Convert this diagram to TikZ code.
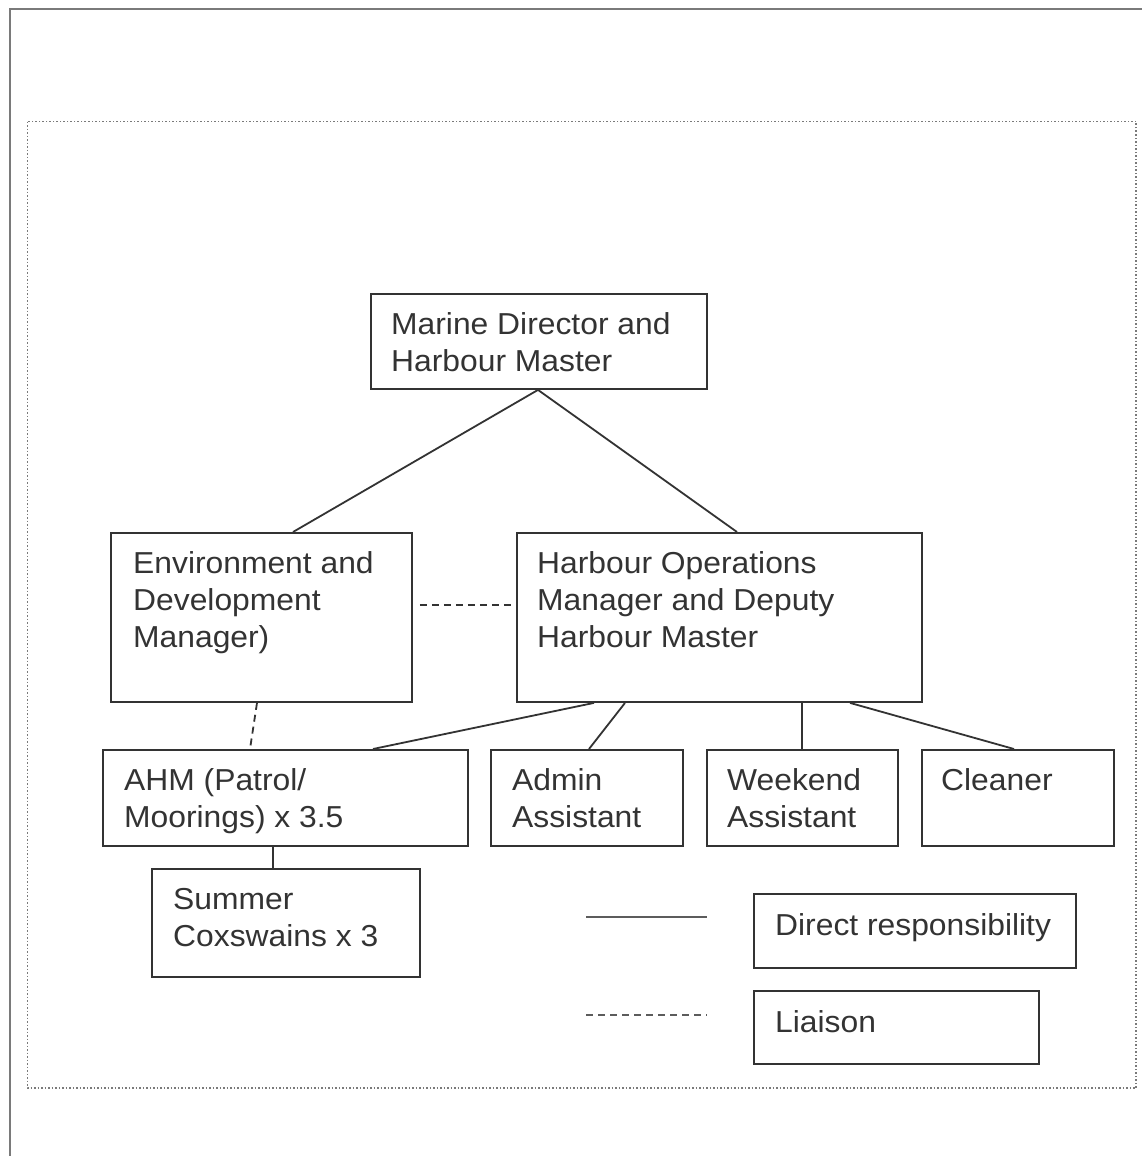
\documentclass[tikz,border=0pt]{standalone}
\usepackage{fontspec}
\setmainfont{Liberation Sans}[FakeStretch=1.05]
\definecolor{ink}{HTML}{333333}
\definecolor{framecol}{HTML}{7a7a7a}
\newcommand\firststrut{\rule{0pt}{25pt}}
\begin{document}
\begin{tikzpicture}[x=1pt,y=1pt,
  box/.style={draw=ink, line width=1.9pt, inner sep=0pt, anchor=north west},
  txt/.style={text=ink, inner sep=0pt, anchor=north west, align=left,
              font=\fontsize{30.3}{37}\selectfont},
  link/.style={draw=ink, line width=1.8pt},
  liaison/.style={link, dash pattern=on 7pt off 5pt},
  legline/.style={draw=ink!80, line width=1.9pt}]
\useasboundingbox (0,0) rectangle (1142,-1156);
\fill[white] (0,0) rectangle (1142,-1156);
% outer frame and dotted panel
\draw[framecol, line width=2.2pt] (10,-1156) -- (10,-9) -- (1142,-9);
\draw[framecol, line width=1.5pt, dotted] (27.5,-121.5) rectangle (1136,-1088);
% boxes
\node[box, minimum width=336pt, minimum height=95pt]  (md)  at (370,-293) {};
\node[box, minimum width=301pt, minimum height=169pt] (env) at (110,-532) {};
\node[box, minimum width=405pt, minimum height=169pt] (ho)  at (516,-532) {};
\node[box, minimum width=365pt, minimum height=96pt]  (ahm) at (102,-749) {};
\node[box, minimum width=192pt, minimum height=96pt]  (adm) at (490,-749) {};
\node[box, minimum width=191pt, minimum height=96pt]  (wkd) at (706,-749) {};
\node[box, minimum width=192pt, minimum height=96pt]  (cln) at (921,-749) {};
\node[box, minimum width=268pt, minimum height=108pt] (sum) at (151,-868) {};
\node[box, minimum width=322pt, minimum height=74pt]  (dir) at (753,-893) {};
\node[box, minimum width=285pt, minimum height=73pt]  (lia) at (753,-990) {};
% texts
\node[txt] (mdt)  at ([shift={(21,-16)}]md.north west)  {\firststrut Marine Director and\\Harbour Master};
\node[txt] (envt) at ([shift={(23,-16)}]env.north west) {\firststrut Environment and\\Development\\Manager)};
\node[txt] (hot)  at ([shift={(21,-16)}]ho.north west)  {\firststrut Harbour Operations\\Manager and Deputy\\Harbour Master};
\node[txt] (ahmt) at ([shift={(22,-16)}]ahm.north west) {\firststrut AHM (Patrol/\\Moorings) x 3.5};
\node[txt] (admt) at ([shift={(22,-16)}]adm.north west) {\firststrut Admin\\Assistant};
\node[txt] (wkdt) at ([shift={(21,-16)}]wkd.north west) {\firststrut Weekend\\Assistant};
\node[txt] (clnt) at ([shift={(20,-16)}]cln.north west) {\firststrut Cleaner};
\node[txt] (sumt) at ([shift={(22,-16)}]sum.north west) {\firststrut Summer\\Coxswains x 3};
\node[txt] (dirt) at ([shift={(22,-17)}]dir.north west) {\firststrut Direct responsibility};
\node[txt] (liat) at ([shift={(22,-17)}]lia.north west) {\firststrut Liaison};
% connectors
\draw[link] ([xshift=168pt]md.south west) -- ([xshift=183pt]env.north west);
\draw[link] ([xshift=168pt]md.south west) -- ([xshift=221pt]ho.north west);
\draw[liaison] ([shift={(7pt,-73pt)}]env.north east) -- ([shift={(-5pt,-73pt)}]ho.north west);
\draw[liaison] ([xshift=147pt]env.south west) -- ([xshift=148pt]ahm.north west);
\draw[link] ([xshift=78pt]ho.south west) -- ([xshift=271pt]ahm.north west);
\draw[link] ([xshift=109pt]ho.south west) -- ([xshift=99pt]adm.north west);
\draw[link] ([xshift=286pt]ho.south west) -- ([xshift=96pt]wkd.north west);
\draw[link] ([xshift=334pt]ho.south west) -- ([xshift=93pt]cln.north west);
\draw[link] ([xshift=171pt]ahm.south west) -- ([xshift=122pt]sum.north west);
% legend lines
\coordinate (sa) at (586,-917);
\coordinate (sb) at (707,-917);
\coordinate (da) at (586,-1015);
\coordinate (db) at (707,-1015);
\draw[legline] (sa) -- (sb);
\draw[legline, dash pattern=on 7pt off 5pt] (da) -- (db);
\end{tikzpicture}
\end{document}
